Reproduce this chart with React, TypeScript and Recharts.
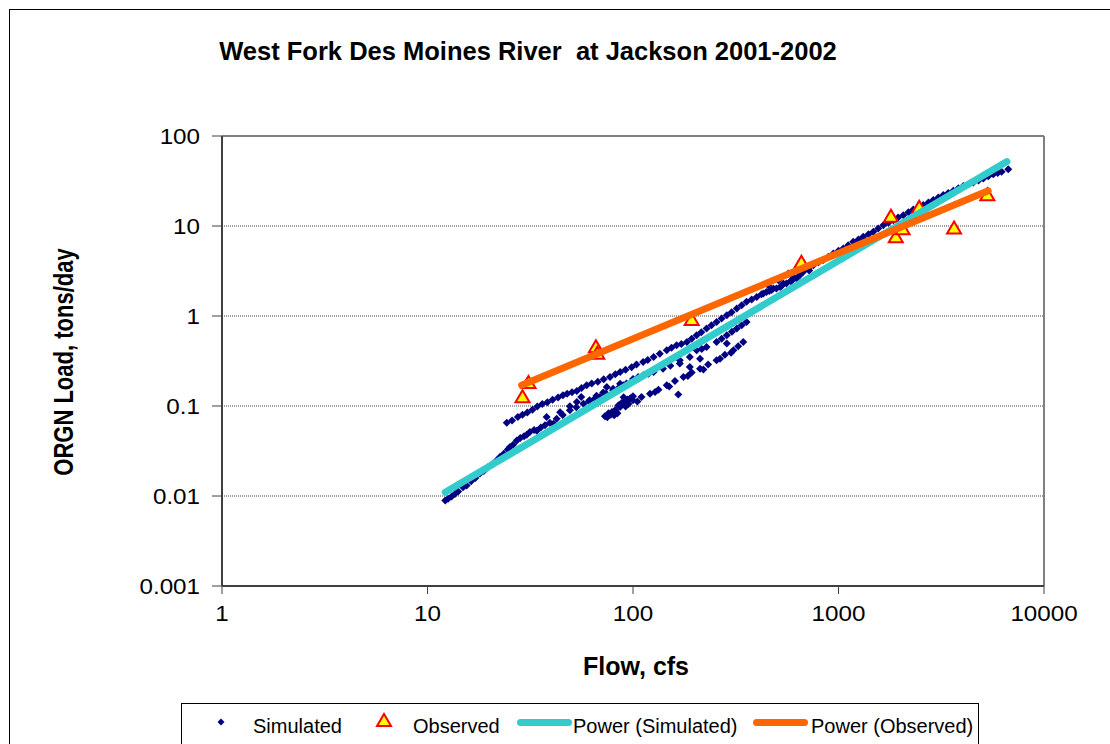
import React from 'react';
import { ScatterChart, Scatter, XAxis, YAxis, CartesianGrid, ReferenceLine } from 'recharts';

const FONT = '"Liberation Sans", Arial, sans-serif';

// Simulated daily loads (flow cfs, load tons/day)
const simLowerLeft: [number, number][] = [
  [12.2, 0.0089], [12.6, 0.0093], [13.1, 0.0099], [13.6, 0.0105], [14.1, 0.0112], [14.9, 0.0125],
  [15.5, 0.0131], [16.3, 0.0146], [17.1, 0.0158], [18.0, 0.0178], [18.8, 0.019], [19.7, 0.0208],
  [20.6, 0.0224], [21.6, 0.0247], [22.5, 0.0271], [23.5, 0.0294], [24.6, 0.0328], [25.2, 0.035],
  [26.1, 0.0372], [27.2, 0.0415], [28.3, 0.044], [29.5, 0.0462], [30.4, 0.0478], [31.5, 0.0514],
  [33.0, 0.054], [34.0, 0.0532], [35.6, 0.0578], [37.3, 0.061], [39.4, 0.0652], [41.0, 0.0635],
  [42.5, 0.072], [45.5, 0.0795], [49.3, 0.0895], [53.0, 0.097], [57.4, 0.106], [61.0, 0.113],
  [65.0, 0.12], [69.0, 0.126], [74.0, 0.138], [80.0, 0.15], [86.0, 0.163], [93.0, 0.178],
];

const simUpperLeft: [number, number][] = [
  [24.3, 0.065], [25.8, 0.069], [27.5, 0.0756], [29.0, 0.08], [30.6, 0.0845], [32.4, 0.091],
  [34.2, 0.099], [36.2, 0.105], [38.3, 0.11], [40.6, 0.117], [43.2, 0.124], [45.6, 0.132],
  [47.8, 0.137], [50.5, 0.142], [53.3, 0.147], [56.2, 0.158], [59.5, 0.17], [63.0, 0.178],
  [67.4, 0.186], [72.0, 0.198], [77.3, 0.21], [82.0, 0.225], [86.6, 0.238], [92.0, 0.252],
  [98.5, 0.27], [104, 0.29], [112, 0.309], [118, 0.325], [126, 0.351], [135, 0.38], [146, 0.417],
  [154, 0.445], [163, 0.473], [172, 0.49], [183, 0.515], [193, 0.56], [204, 0.611], [215, 0.66],
  [228, 0.726], [241, 0.79], [255, 0.86], [270, 0.94], [286, 1.02], [302, 1.1], [320, 1.21],
  [338, 1.32], [357, 1.44], [378, 1.53], [400, 1.63], [422, 1.74], [446, 1.85], [472, 1.94],
  [499, 2.02], [528, 2.16], [558, 2.3], [590, 2.45], [625, 2.61],
];

const simMiddle: [number, number][] = [
  [38, 0.0756], [44.2, 0.085], [49.3, 0.0995], [53.3, 0.111], [56, 0.126], [61.5, 0.116],
  [66.5, 0.13], [71.6, 0.141], [74.5, 0.163], [80, 0.155], [86.5, 0.177], [89.5, 0.17],
  [100, 0.2], [106, 0.21], [112, 0.22], [119, 0.228], [126, 0.239], [140, 0.26], [152, 0.28],
  [169, 0.322], [189, 0.351], [204, 0.417], [216, 0.43], [228, 0.453], [255, 0.515], [270, 0.56],
  [286, 0.611], [303, 0.67], [320, 0.726], [338, 0.79], [357, 0.86], [169, 0.296], [212, 0.336],
  [189, 0.272], [286, 0.494], [166, 0.134],
  [85, 0.102], [88, 0.108], [90, 0.125], [91, 0.112], [92, 0.099], [94, 0.118], [95, 0.105],
  [97, 0.122], [100, 0.128],
];

const simLowerRight: [number, number][] = [
  [73, 0.077], [75, 0.075], [76, 0.083], [78, 0.08], [79, 0.086], [81, 0.079], [82, 0.09],
  [84, 0.083], [86.5, 0.0975], [93, 0.106], [100, 0.116], [105, 0.112], [110, 0.126], [121, 0.137],
  [128, 0.143], [133, 0.152], [146, 0.17], [150, 0.165], [160, 0.19], [176, 0.21], [185, 0.215],
  [193, 0.235], [212, 0.26], [220, 0.255], [232, 0.29], [255, 0.322], [265, 0.335], [280, 0.37],
  [300, 0.39], [308, 0.417], [325, 0.46], [344, 0.515],
];

const simUpperRight: [number, number][] = [
  [431, 1.78], [455, 2.2], [460, 1.9], [482, 2.02], [510, 2.5], [520, 2.1], [539, 2.3],
  [570, 2.97], [585, 2.45], [603, 2.72], [637, 3.37], [650, 2.85], [674, 3.1], [712, 3.4],
  [720, 3.2], [754, 3.67], [800, 3.95], [843, 4.18], [893, 4.55], [944, 4.96], [1000, 5.3],
  [1055, 5.63], [1115, 6.1], [1180, 6.67], [1250, 7.1], [1320, 7.59], [1400, 8.1], [1477, 8.62],
  [1560, 9.4], [1652, 10.2], [1750, 10.9], [1848, 11.6], [1950, 12.4], [2067, 13.2], [2190, 14.2],
  [2312, 15.3], [2450, 16.2], [2586, 17.1], [2740, 18.2], [2893, 19.4], [3060, 20.7], [3236, 22.1],
  [3420, 23.3], [3620, 24.6], [3830, 26.2], [4049, 27.8], [4290, 29.1], [4529, 30.5], [4800, 32.1],
  [5066, 33.8], [5360, 35.6], [5666, 37.5], [5950, 38.8], [6219, 40.1], [6700, 42.6],
];

// Observed samples
const obsFlow = [29, 31, 66, 67, 193, 660, 1800, 1900, 2050, 2470, 3650, 5300];
const obsLoad = [0.125, 0.18, 0.45, 0.38, 0.9, 3.9, 12.7, 7.5, 9.2, 16, 9.4, 22];

// Power trendline end points
const powerSimFlow = [12.2, 6600];
const powerSimLoad = [0.011, 52];
const powerObsFlow = [28.7, 5350];
const powerObsLoad = [0.17, 24.6];

const xTicks = [1, 10, 100, 1000, 10000];
const yTicks = [0.001, 0.01, 0.1, 1, 10, 100];

const toPoints = (pairs: [number, number][]) => pairs.map(([x, y]) => ({ x, y }));
const zip = (xs: number[], ys: number[]) => xs.map((x, i) => ({ x, y: ys[i] }));

const simulatedData = [
  ...toPoints(simLowerLeft),
  ...toPoints(simUpperLeft),
  ...toPoints(simMiddle),
  ...toPoints(simLowerRight),
  ...toPoints(simUpperRight),
];
const observedData = zip(obsFlow, obsLoad);
const powerSimData = zip(powerSimFlow, powerSimLoad);
const powerObsData = zip(powerObsFlow, powerObsLoad);

function Diamond(props: any) {
  const { cx, cy } = props;
  return (
    <polygon
      points={`${cx},${cy - 4} ${cx + 4},${cy} ${cx},${cy + 4} ${cx - 4},${cy}`}
      fill="#000080"
    />
  );
}

function Triangle(props: any) {
  const { cx, cy } = props;
  return (
    <polygon
      points={`${cx - 7},${cy + 5} ${cx + 7},${cy + 5} ${cx},${cy - 7}`}
      fill="#FFFF00"
      stroke="#FF0000"
      strokeWidth={2}
    />
  );
}

const NoDot = () => <g />;

function XTick(props: any) {
  const { x, y, payload } = props;
  return (
    <text
      x={0}
      y={0}
      transform={`translate(${x},${y + 27}) scale(1.1,1)`}
      textAnchor="middle"
      fontSize={22}
      fontFamily={FONT}
      fill="#000"
    >
      {payload.value}
    </text>
  );
}

function YTick(props: any) {
  const { x, y, payload } = props;
  return (
    <text
      x={0}
      y={0}
      transform={`translate(${x},${y + 8}) scale(1.1,1)`}
      textAnchor="end"
      fontSize={22}
      fontFamily={FONT}
      fill="#000"
    >
      {payload.value}
    </text>
  );
}

function LegendBox() {
  const text: React.CSSProperties = {
    position: 'absolute',
    top: 12,
    fontSize: 20,
    lineHeight: '20px',
    fontFamily: FONT,
    whiteSpace: 'nowrap',
  };
  const line = (left: number, width: number, color: string): React.CSSProperties => ({
    position: 'absolute',
    left,
    top: 15,
    width,
    height: 7,
    borderRadius: 4,
    background: color,
  });
  return (
    <div
      style={{
        position: 'absolute',
        left: 181,
        top: 703,
        width: 796,
        height: 60,
        border: '1px solid #000',
        background: '#fff',
      }}
    >
      <svg style={{ position: 'absolute', left: 0, top: 0 }} width={240} height={40}>
        <polygon points="39,14.5 42.5,18 39,21.5 35.5,18" fill="#000080" />
        <polygon points="195,22 209,22 202,10" fill="#FFFF00" stroke="#FF0000" strokeWidth={2} />
      </svg>
      <span style={{ ...text, left: 71 }}>Simulated</span>
      <span style={{ ...text, left: 231 }}>Observed</span>
      <div style={line(335, 55, '#33CCCC')} />
      <span style={{ ...text, left: 391 }}>Power (Simulated)</span>
      <div style={line(571, 55, '#FF6600')} />
      <span style={{ ...text, left: 629 }}>Power (Observed)</span>
    </div>
  );
}

export default function App() {
  return (
    <div
      style={{
        position: 'absolute',
        left: 0,
        top: 0,
        width: 1110,
        height: 744,
        overflow: 'hidden',
        background: '#fff',
        fontFamily: FONT,
      }}
    >
      <div
        style={{
          position: 'absolute',
          left: 9,
          top: 9,
          width: 1130,
          height: 760,
          border: '1px solid #000',
        }}
      />
      <div
        style={{
          position: 'absolute',
          left: 0,
          width: 1056,
          top: 39,
          textAlign: 'center',
          fontSize: 25.5,
          lineHeight: '25px',
          fontWeight: 'bold',
          whiteSpace: 'pre',
        }}
      >
        {'West Fork Des Moines River  at Jackson 2001-2002'}
      </div>

      <div style={{ position: 'absolute', left: 0, top: 0 }}>
        <ScatterChart width={1110} height={744} margin={{ top: 136, right: 66, bottom: 0, left: 0 }}>
          <CartesianGrid
            vertical={false}
            stroke="#404040"
            strokeDasharray="1 1"
            horizontalValues={[0.01, 0.1, 1, 10]}
          />
          <XAxis
            dataKey="x"
            type="number"
            scale="log"
            domain={[1, 10000]}
            ticks={xTicks}
            allowDataOverflow
            height={158}
            tickSize={8}
            tickMargin={0}
            axisLine={{ stroke: '#404040', strokeWidth: 2 }}
            tickLine={{ stroke: '#404040' }}
            tick={<XTick />}
          />
          <YAxis
            dataKey="y"
            type="number"
            scale="log"
            domain={[0.001, 100]}
            ticks={yTicks}
            allowDataOverflow
            width={222}
            tickSize={10}
            tickMargin={12}
            axisLine={{ stroke: '#404040', strokeWidth: 2 }}
            tickLine={{ stroke: '#404040' }}
            tick={<YTick />}
          />
          <ReferenceLine y={100} stroke="#808080" strokeWidth={2} ifOverflow="visible" />
          <ReferenceLine x={10000} stroke="#808080" strokeWidth={2} ifOverflow="visible" />
          <Scatter
            name="Simulated"
            data={simulatedData}
            shape={<Diamond />}
            isAnimationActive={false}
          />
          <Scatter
            name="Observed"
            data={observedData}
            shape={<Triangle />}
            isAnimationActive={false}
          />
          <Scatter
            name="Power (Simulated)"
            data={powerSimData}
            line={{ stroke: '#33CCCC', strokeWidth: 7, strokeLinecap: 'round' }}
            shape={<NoDot />}
            isAnimationActive={false}
          />
          <Scatter
            name="Power (Observed)"
            data={powerObsData}
            line={{ stroke: '#FF6600', strokeWidth: 7, strokeLinecap: 'round' }}
            shape={<NoDot />}
            isAnimationActive={false}
          />
        </ScatterChart>
      </div>

      <div
        style={{
          position: 'absolute',
          left: 64,
          top: 362,
          transform: 'translate(-50%, -50%) scaleX(1.25) rotate(-90deg)',
          fontSize: 22,
          lineHeight: '22px',
          fontWeight: 'bold',
          whiteSpace: 'nowrap',
        }}
      >
        ORGN Load, tons/day
      </div>
      <div
        style={{
          position: 'absolute',
          left: 536,
          width: 200,
          top: 654,
          textAlign: 'center',
          fontSize: 25,
          lineHeight: '25px',
          fontWeight: 'bold',
        }}
      >
        Flow, cfs
      </div>

      <LegendBox />
    </div>
  );
}
